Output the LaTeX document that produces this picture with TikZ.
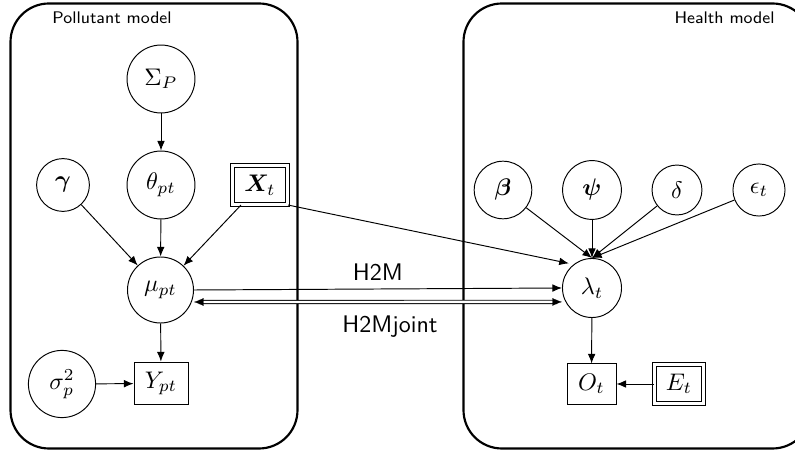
\documentclass[tikz,border=0pt]{standalone}
\usepackage{bm}
\usetikzlibrary{arrows.meta}
\begin{document}
\begin{tikzpicture}[x=0.416667pt, y=-0.416667pt,
  latent/.style={circle, draw, line width=0.4pt, inner sep=0pt},
  obs/.style={rectangle, draw, line width=0.4pt, inner sep=0pt},
  fixed/.style={rectangle, draw, line width=0.4pt, double, double distance=1.4pt, inner sep=0pt},
  arr/.style={-{Latex[length=4pt,width=3.2pt]}, line width=0.4pt},
  model/.style={draw, line width=0.9pt, rounded corners=16pt},
  boxlabel/.style={font=\sffamily\scriptsize, inner sep=0pt},
  link/.style={font=\sffamily}
]
\useasboundingbox (0,0) rectangle (795,454);
\clip (0,0) rectangle (795,454);
\draw[model] (10.5,3.5) rectangle (297.5,448.5);
\draw[model] (463.5,3.5) rectangle (811,448.5);
\node[boxlabel, anchor=west] (plab) at (52,18) {Pollutant model};
\node[boxlabel, anchor=east] (hlab) at (775,18) {Health model};

\node[latent, minimum size=28.3pt] (SigP) at (161,79) {$\Sigma_P$};
\node[latent, minimum size=28.3pt] (theta) at (161,185) {$\theta_{pt}$};
\node[latent, minimum size=22pt] (gamma) at (63,185) {$\bm{\gamma}$};
\node[fixed, minimum width=23pt, minimum height=16.3pt] (X) at (260,185) {$\bm{X}_t$};
\node[latent, minimum size=27.5pt] (mu) at (160.5,290) {$\mu_{pt}$};
\node[latent, minimum size=28pt] (sig) at (62,384) {$\sigma_p^2$};
\node[obs, minimum width=22.5pt, minimum height=17.9pt] (Y) at (161,383.5) {$Y_{pt}$};

\node[latent, minimum size=24pt] (beta) at (503,190) {$\bm{\beta}$};
\node[latent, minimum size=24.5pt] (psi) at (592,190) {$\bm{\psi}$};
\node[latent, minimum size=20.8pt] (delta) at (677,190) {$\delta$};
\node[latent, minimum size=21.7pt] (eps) at (759,190) {$\epsilon_t$};
\node[latent, minimum size=24.6pt] (lam) at (592,288) {$\lambda_t$};
\node[obs, minimum width=20.4pt, minimum height=16.7pt] (O) at (591.5,384) {$O_t$};
\node[fixed, minimum width=20.4pt, minimum height=16.3pt] (E) at (679,384) {$E_t$};

\draw[arr] (SigP) -- (theta);
\draw[arr] (gamma) -- (mu);
\draw[arr] (theta) -- (mu);
\draw[arr] (X) -- (mu);
\draw[arr] (mu) -- (Y);
\draw[arr] (sig) -- (Y);
\draw[arr, shorten >=2pt] (X.south east) -- (lam.128);
\draw[arr] (beta) -- (lam.north);
\draw[arr] (psi) -- (lam.north);
\draw[arr] (delta) -- (lam.north);
\draw[arr] (eps) -- (lam.north);
\draw[arr] (lam) -- (O);
\draw[arr] (E) -- (O);

\draw[arr] (mu.east) -- (lam.west) node[midway, above, link] (h2m) {H2M};
\coordinate (jL) at ([yshift=-5pt]mu.east);
\coordinate (jR) at ([yshift=-5.8pt]lam.west);
\draw[line width=0.4pt, double, double distance=1pt, shorten <=2pt, shorten >=2pt] (jL) -- (jR);
\draw[draw=white, line width=0.1pt, {Latex[length=4pt,width=3.2pt,color=black]}-{Latex[length=4pt,width=3.2pt,color=black]}] (jL) -- (jR);
\node[link, anchor=base] (h2mj) at (390,333) {H2Mjoint};
\end{tikzpicture}
\end{document}
